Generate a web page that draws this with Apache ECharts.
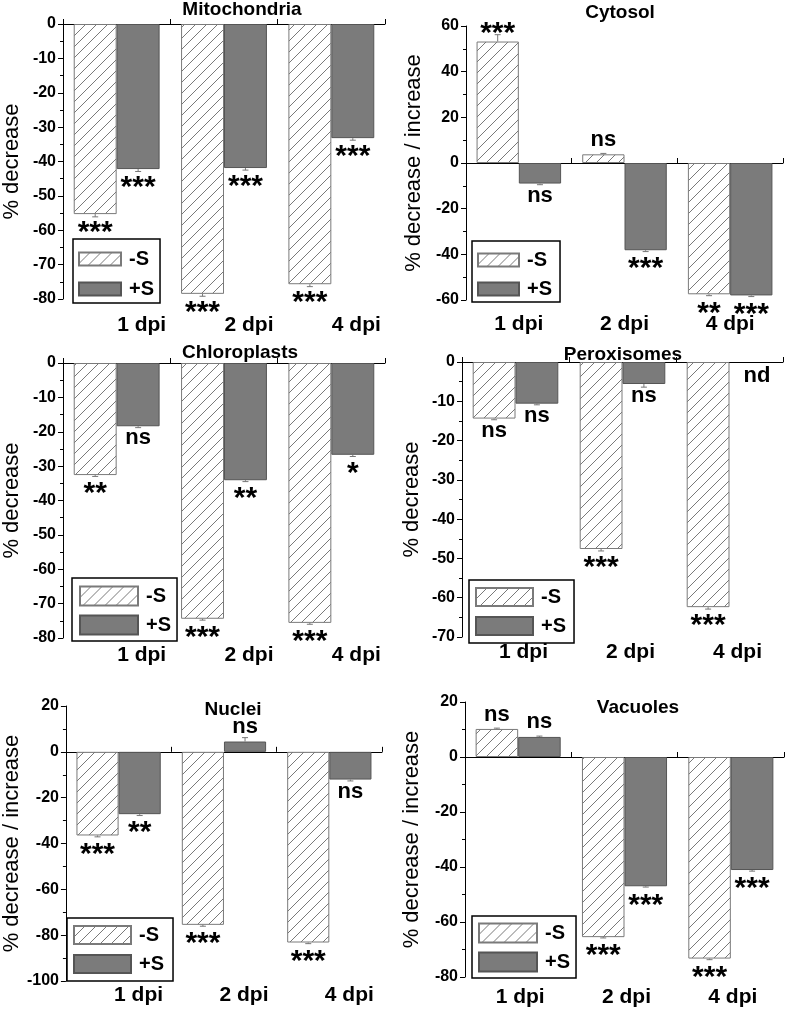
<!DOCTYPE html>
<html><head><meta charset="utf-8">
<script src="https://cdn.jsdelivr.net/npm/echarts@6/dist/echarts.min.js"></script>
<style>html,body{margin:0;padding:0;background:#fff}#c{width:787px;height:1011px}</style>
</head><body><div id="c"></div>
<script>
// ---------- DATA ----------
const categories = ['1 dpi', '2 dpi', '4 dpi'];

const mitoMinusS = [-55.3, -78.5, -75.7];
const mitoPlusS  = [-42.2, -41.9, -33.2];
const mitoMinusSig = ['***', '***', '***'];
const mitoPlusSig  = ['***', '***', '***'];
const mitoMinusErr = [0.8, 0.7, 0.7];
const mitoPlusErr  = [0.7, 0.6, 0.6];

const cytoMinusS = [53.2, 3.8, -57.5];
const cytoPlusS  = [-9.0, -38.2, -58.0];
const cytoMinusSig = ['***', 'ns', '**'];
const cytoPlusSig  = ['ns', '***', '***'];
const cytoMinusErr = [3.0, 0.4, 0.6];
const cytoPlusErr  = [0.5, 0.6, 0.5];

const chloroMinusS = [-32.6, -74.4, -75.6];
const chloroPlusS  = [-18.4, -34.1, -26.7];
const chloroMinusSig = ['**', '***', '***'];
const chloroPlusSig  = ['ns', '**', '*'];
const chloroMinusErr = [0.4, 0.4, 0.4];
const chloroPlusErr  = [0.4, 0.4, 0.5];

const peroxMinusS = [-14.4, -47.6, -62.4];
const peroxPlusS  = [-10.6, -5.6, null];
const peroxMinusSig = ['ns', '***', '***'];
const peroxPlusSig  = ['ns', 'ns', 'nd'];
const peroxMinusErr = [0.3, 0.5, 0.5];
const peroxPlusErr  = [0.3, 0.8, 0];

const nucMinusS = [-36.5, -75.5, -83.2];
const nucPlusS  = [-27.2, 4.5, -12.1];
const nucMinusSig = ['***', '***', '***'];
const nucPlusSig  = ['**', 'ns', 'ns'];
const nucMinusErr = [0.6, 0.6, 0.5];
const nucPlusErr  = [0.6, 1.7, 0.6];

const vacMinusS = [10.2, -65.5, -73.3];
const vacPlusS  = [7.3, -47.0, -41.1];
const vacMinusSig = ['ns', '***', '***'];
const vacPlusSig  = ['ns', '***', '***'];
const vacMinusErr = [0.3, 0.3, 0.4];
const vacPlusErr  = [0.3, 0.3, 0.4];

// ---------- LAYOUT ----------
const F = 'Liberation Sans, Arial, Helvetica, sans-serif';
const panels = [
  {title:'Mitochondria', tx:242, ty:10, minus:mitoMinusS, plus:mitoPlusS, ms:mitoMinusSig, ps:mitoPlusSig, me:mitoMinusErr, pe:mitoPlusErr,
   grid:{left:63, top:24, width:322, height:275}, y:{min:-80, max:0, interval:10}, yName:'% decrease', nameGap:40,
   shift:25, lmargin:16, lg:{left:73, top:239, w:42, h:13, pad:[9,6,3,5], gap:8}},
  {title:'Cytosol', tx:620, ty:13, minus:cytoMinusS, plus:cytoPlusS, ms:cytoMinusSig, ps:cytoPlusSig, me:cytoMinusErr, pe:cytoPlusErr,
   grid:{left:466, top:26, width:317, height:274}, y:{min:-60, max:60, interval:20}, yName:'% decrease / increase', nameGap:41,
   shift:0, lmargin:14, lg:{left:472, top:241, w:41, h:13, pad:[8,8,2,5], gap:7}},
  {title:'Chloroplasts', tx:240, ty:353, minus:chloroMinusS, plus:chloroPlusS, ms:chloroMinusSig, ps:chloroPlusSig, me:chloroMinusErr, pe:chloroPlusErr,
   grid:{left:63, top:363, width:322, height:275}, y:{min:-80, max:0, interval:10}, yName:'% decrease', nameGap:40,
   shift:25, lmargin:7, lg:{left:72, top:578, w:58, h:19, pad:[7,6,5,7], gap:7}},
  {title:'Peroxisomes', tx:623, ty:355, minus:peroxMinusS, plus:peroxPlusS, ms:peroxMinusSig, ps:peroxPlusSig, me:peroxMinusErr, pe:peroxPlusErr,
   grid:{left:462, top:362, width:321, height:275}, y:{min:-70, max:0, interval:10}, yName:'% decrease', nameGap:39,
   shift:8, lmargin:5, lg:{left:469, top:580, w:57, h:18, pad:[6,8,6,6], gap:7}},
  {title:'Nuclei', tx:233, ty:710, minus:nucMinusS, plus:nucPlusS, ms:nucMinusSig, ps:nucPlusSig, me:nucMinusErr, pe:nucPlusErr,
   grid:{left:62, top:706, width:320, height:275}, y:{min:-100, max:20, interval:20}, yName:'% decrease / increase', nameGap:39,
   shift:20, lmargin:4, lg:{left:67, top:918, w:57, h:18, pad:[6,9,6,6], gap:7}},
  {title:'Vacuoles', tx:638, ty:708, minus:vacMinusS, plus:vacPlusS, ms:vacMinusSig, ps:vacPlusSig, me:vacMinusErr, pe:vacPlusErr,
   grid:{left:465, top:702, width:319, height:275}, y:{min:-80, max:20, interval:20}, yName:'% decrease / increase', nameGap:42,
   shift:2, lmargin:10, lg:{left:472, top:916, w:58, h:19, pad:[6,6,5,6], gap:7}}
];

// hatch pattern
const hatch = document.createElement('canvas');
hatch.width = 11; hatch.height = 11;
(function(){
  const c = hatch.getContext('2d');
  c.fillStyle = '#fff'; c.fillRect(0,0,11,11);
  c.strokeStyle = '#6a6a6a'; c.lineWidth = 0.9;
  c.beginPath();
  c.moveTo(-1,12); c.lineTo(12,-1);
  c.moveTo(-1,1); c.lineTo(1,-1);
  c.moveTo(10,12); c.lineTo(12,10);
  c.stroke();
})();
const hatchFill = {image: hatch, repeat: 'repeat'};

function mkLabel(sig, v) {
  if (!sig) return {show:false};
  const neg = (v === null) ? true : v < 0;
  const stars = sig.indexOf('*') >= 0;
  let d;
  if (stars) d = neg ? 4 : -7; else d = neg ? 1 : 3.5;
  if (sig === 'nd') d = 3;
  return {show:true, formatter: sig, position: neg ? 'bottom' : 'top', distance: d,
          offset: sig === 'nd' ? [6, 0] : [0, 0],
          fontSize: stars ? 30 : 22, fontWeight:'bold', color:'#000', fontFamily:F};
}

const option = {
  animation:false, backgroundColor:'#fff',
  grid:[], xAxis:[], yAxis:[], series:[], legend:[], graphic:[]
};

panels.forEach((p, k) => {
  option.grid.push(Object.assign({containLabel:false}, p.grid));
  option.xAxis.push({type:'category', gridIndex:k, data:categories, position:'top',
    axisLine:{show:true, onZero:true, lineStyle:{color:'#000', width:1}},
    axisTick:{show:true, length:5, lineStyle:{color:'#000'}}, axisLabel:{show:false}, splitLine:{show:false}});
  option.xAxis.push({type:'category', gridIndex:k, data:categories, position:'bottom',
    axisLine:{show:false}, axisTick:{show:false}, splitLine:{show:false},
    axisLabel:{show:true, interval:0, margin:p.lmargin, fontSize:21, fontWeight:'bold', color:'#000', fontFamily:F,
      padding:[0,0,0,2*p.shift]}});
  option.yAxis.push({type:'value', gridIndex:k, min:p.y.min, max:p.y.max, interval:p.y.interval,
    name:p.yName, nameLocation:'middle', nameGap:p.nameGap, nameRotate:90,
    nameTextStyle:{fontSize:22, color:'#000', fontFamily:F},
    axisLine:{show:true, lineStyle:{color:'#000', width:1}},
    axisTick:{show:true, length:5, lineStyle:{color:'#000'}},
    minorTick:{show:true, splitNumber:2, length:3, lineStyle:{color:'#000'}},
    splitLine:{show:false},
    axisLabel:{fontSize:16, fontWeight:'bold', color:'#000', fontFamily:F, margin:7}});
  const minusData = p.minus.map((v, i) => ({value:v, label:mkLabel(p.ms[i], v)}));
  const plusData = p.plus.map((v, i) => v === null
    ? {value:0, itemStyle:{color:'transparent', borderWidth:0}, label:mkLabel(p.ps[i], null)}
    : {value:v, label:mkLabel(p.ps[i], v)});
  option.series.push({type:'bar', name:'-S', xAxisIndex:2*k, yAxisIndex:k, data:minusData,
    barCategoryGap:'20%', barGap:'0%', itemStyle:{color:hatchFill, borderColor:'#7a7a7a', borderWidth:1}});
  option.series.push({type:'bar', name:'+S', xAxisIndex:2*k, yAxisIndex:k, data:plusData,
    barCategoryGap:'20%', barGap:'0%', itemStyle:{color:'#7b7b7b', borderColor:'#555', borderWidth:1}});
  const errData = [];
  p.minus.forEach((v, i) => { if (v !== null) errData.push([i, v, p.me[i], -0.2]); });
  p.plus.forEach((v, i) => { if (v !== null) errData.push([i, v, p.pe[i], 0.2]); });
  option.series.push({type:'custom', name:'err', xAxisIndex:2*k, yAxisIndex:k, data:errData, z:5, silent:true,
    renderItem:function(params, api){
      const ci = api.value(0), v = api.value(1), e = api.value(2), off = api.value(3);
      const band = api.size([1, 0])[0];
      const p0 = api.coord([ci, v]);
      const p1 = api.coord([ci, v + (v >= 0 ? e : -e)]);
      const x = p0[0] + off * band;
      const st = {stroke:'#777', lineWidth:1};
      return {type:'group', children:[
        {type:'line', shape:{x1:x, y1:p0[1], x2:x, y2:p1[1]}, style:st},
        {type:'line', shape:{x1:x-3, y1:p1[1], x2:x+3, y2:p1[1]}, style:st}
      ]};
    }});
  option.legend.push({left:p.lg.left, top:p.lg.top, orient:'vertical', data:['-S', '+S'],
    icon:'rect', itemWidth:p.lg.w, itemHeight:p.lg.h, itemGap:p.lg.gap, padding:p.lg.pad,
    borderColor:'#000', borderWidth:1.5, selectedMode:false,
    textStyle:{fontSize:20, fontWeight:'bold', color:'#000', fontFamily:F, lineHeight:22, padding:[0,0,0,3]}});
  option.graphic.push({type:'text', x:p.tx, y:p.ty, z:100,
    style:{text:p.title, align:'center', verticalAlign:'middle', fill:'#000', font:'bold 19px ' + F}});
});

const chart = echarts.init(document.getElementById('c'), null, {renderer:'canvas'});
chart.setOption(option);
</script></body></html>
